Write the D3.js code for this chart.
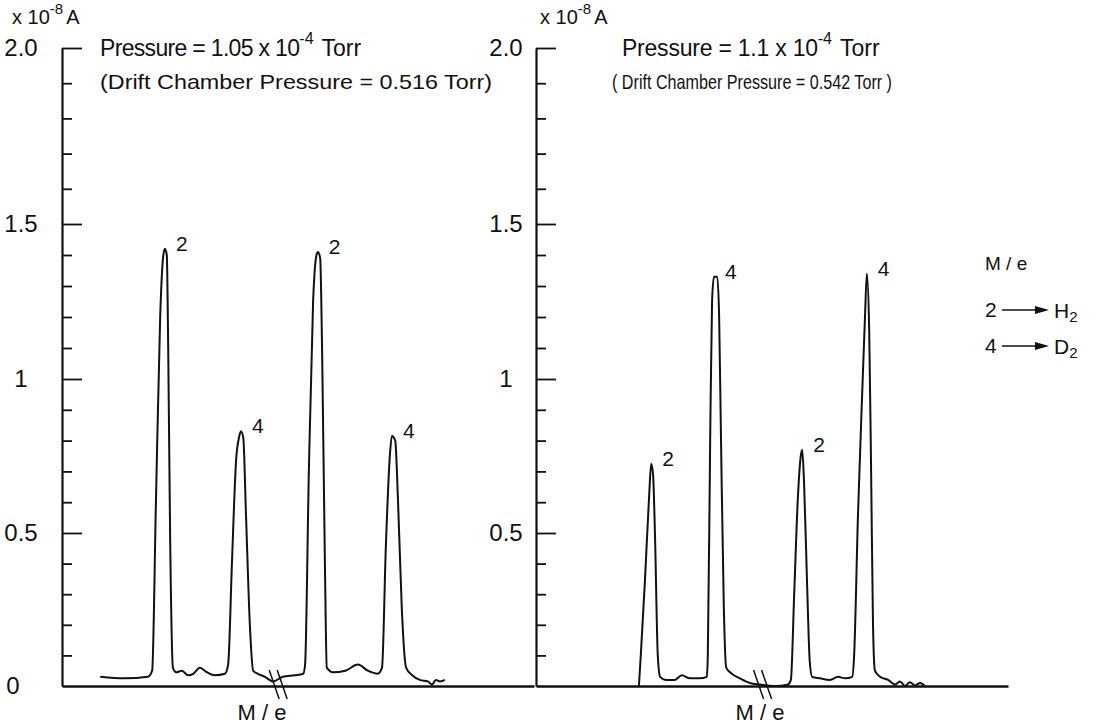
<!DOCTYPE html>
<html>
<head>
<title>Drift chamber mass scans</title>
<script src="https://d3js.org/d3.v7.min.js"></script>
<style>
  body { margin: 0; background: #fff; }
  text { font-family: "Liberation Sans", Arial, sans-serif; fill: #111; }
</style>
</head>
<body>
<div id="my_dataviz"></div>
<script>

// y axis (x 10^-8 A)
var yTickValues = [0, 0.5, 1, 1.5, 2.0];
var yTickLabels = ["0", "0.5", "1", "1.5", "2.0"];
var yMinorTicks = [0.1, 0.2, 0.3, 0.4, 0.6, 0.7, 0.8, 0.9, 1.1, 1.2, 1.3, 1.4, 1.6, 1.7, 1.8, 1.9];

// scan position (arbitrary units, 0..10 per panel) and current
var leftScanX = [0.81, 1.33, 1.82, 1.91, 1.99, 2.08, 2.14, 2.18, 2.22, 2.25, 2.29, 2.35, 2.42, 2.54, 2.67, 2.78, 2.92, 3.07, 3.24, 3.45,
  3.52, 3.6, 3.69, 3.75, 3.79, 3.84, 3.9, 3.98, 4.05, 4.15, 4.3, 4.47, 4.68, 4.93, 5.11,
  5.15, 5.23, 5.32, 5.38, 5.42, 5.47, 5.51, 5.57, 5.61, 5.74, 6.0, 6.27, 6.48, 6.69,
  6.78, 6.86, 6.95, 6.99, 7.06, 7.12, 7.2, 7.29, 7.42, 7.58, 7.75, 7.84, 7.92, 8.01, 8.11];
var leftScanV = [0.03, 0.025, 0.03, 0.05, 0.6, 1.2, 1.39, 1.42, 1.40, 1.1, 0.5, 0.06, 0.045, 0.05, 0.035, 0.04, 0.06, 0.045, 0.035, 0.04,
  0.07, 0.4, 0.74, 0.81, 0.83, 0.81, 0.55, 0.2, 0.05, 0.04, 0.03, 0.015, 0.03, 0.035, 0.04,
  0.07, 0.7, 1.25, 1.39, 1.41, 1.39, 1.1, 0.4, 0.06, 0.045, 0.05, 0.07, 0.05, 0.04,
  0.06, 0.45, 0.76, 0.815, 0.80, 0.6, 0.25, 0.06, 0.035, 0.02, 0.015, 0.005, 0.02, 0.015, 0.02];

var rightScanX = [2.18, 2.22, 2.31, 2.4, 2.44, 2.48, 2.52, 2.58, 2.63, 2.75, 2.94, 3.09, 3.26, 3.47, 3.62,
  3.64, 3.69, 3.73, 3.77, 3.84, 3.88, 3.92, 3.98, 4.03, 4.15, 4.32, 4.53, 4.75, 5.06, 5.34,
  5.4, 5.47, 5.55, 5.61, 5.64, 5.68, 5.74, 5.8, 5.85, 6.02, 6.23, 6.4, 6.55, 6.7,
  6.74, 6.82, 6.91, 6.97, 7.01, 7.06, 7.1, 7.14, 7.18, 7.29, 7.46, 7.61, 7.71, 7.82, 7.92, 8.03, 8.14, 8.24];
var rightScanV = [0.0, 0.1, 0.35, 0.63, 0.725, 0.69, 0.5, 0.1, 0.03, 0.02, 0.02, 0.035, 0.025, 0.025, 0.03,
  0.1, 0.8, 1.25, 1.33, 1.33, 1.2, 0.8, 0.25, 0.06, 0.04, 0.025, 0.01, 0.005, 0.0, 0.005,
  0.02, 0.3, 0.62, 0.75, 0.77, 0.66, 0.35, 0.08, 0.03, 0.025, 0.02, 0.03, 0.025, 0.03,
  0.1, 0.55, 0.95, 1.2, 1.34, 1.15, 0.7, 0.2, 0.05, 0.03, 0.02, 0.005, 0.015, 0.0, 0.012, 0.002, 0.01, 0.0];

// peak labels (M/e) placed at peak tops
var leftPeakX = [2.18, 3.79, 5.42, 6.99];
var leftPeakV = [1.42, 0.83, 1.41, 0.815];
var leftPeakLabel = ["2", "4", "2", "4"];
var rightPeakX = [2.44, 3.77, 5.64, 7.01];
var rightPeakV = [0.725, 1.33, 0.77, 1.34];
var rightPeakLabel = ["2", "4", "2", "4"];

// axis break position on each scan
var leftBreakX = 4.58;
var rightBreakX = 4.8;

var legendMass = ["2", "4"];
var legendGas = ["H", "D"];

var width = 1096, height = 726;

var svg = d3.select("#my_dataviz")
  .append("svg")
    .attr("width", width)
    .attr("height", height);

// hand-ruled axis: the top half-unit is drawn a little taller
var y = d3.scaleLinear().domain(yTickValues).range([686, 533, 379, 224, 48]);

var panels = [
  { x0: 62, x1: 534, labelX: 21, unitX: 12, labels: yTickValues,
    scanX: leftScanX, scanV: leftScanV,
    peakX: leftPeakX, peakV: leftPeakV, peakLabel: leftPeakLabel, breakX: leftBreakX,
    title: "Pressure = 1.05 x 10", titleX: 100, titleLen: 200,
    drift: "(Drift Chamber Pressure = 0.516 Torr)", driftX: 100, driftLen: 392, meX: 262 },
  { x0: 536, x1: 1008, labelX: 506, unitX: 540, labels: yTickValues.slice(1),
    scanX: rightScanX, scanV: rightScanV,
    peakX: rightPeakX, peakV: rightPeakV, peakLabel: rightPeakLabel, breakX: rightBreakX,
    title: "Pressure = 1.1 x 10", titleX: 622, titleLen: 196,
    drift: "( Drift Chamber Pressure = 0.542 Torr )", driftX: 612, driftLen: 280, meX: 760 }
];

panels.forEach(function(p) {
  var x = d3.scaleLinear().domain([0, 10]).range([p.x0, p.x1]);
  var g = svg.append("g");

  // minor ticks
  g.append("g")
    .attr("transform", "translate(" + p.x0 + ",0)")
    .call(d3.axisRight(y).tickValues(yMinorTicks).tickSize(10).tickFormat("").tickSizeOuter(0))
    .call(function(a) { a.select(".domain").remove(); })
    .selectAll("line").attr("stroke", "#111").attr("stroke-width", 1.8);

  // major ticks + axis line
  g.append("g")
    .attr("transform", "translate(" + p.x0 + ",0)")
    .call(d3.axisRight(y).tickValues(yTickValues.slice(1)).tickSize(20).tickFormat("").tickSizeOuter(0))
    .call(function(a) {
      a.select(".domain").attr("stroke", "#111").attr("stroke-width", 2.2);
      a.selectAll("line").attr("stroke", "#111").attr("stroke-width", 1.8);
    });

  // tick labels
  g.selectAll(".ylab")
    .data(p.labels)
    .enter()
    .append("text")
      .attr("x", function(d) { return d === 0 ? p.labelX - 8 : p.labelX; })
      .attr("y", function(d) { return y(d); })
      .attr("dy", "0.35em")
      .attr("text-anchor", "middle")
      .attr("font-size", 24)
      .text(function(d) { return yTickLabels[yTickValues.indexOf(d)]; });

  // baseline (M/e axis)
  g.append("g")
    .attr("transform", "translate(0," + y(0) + ")")
    .call(d3.axisBottom(x).tickValues([]).tickSizeOuter(0))
    .select(".domain").attr("stroke", "#111").attr("stroke-width", 2.4);

  // units label
  var u = g.append("text").attr("x", p.unitX).attr("y", 24).attr("font-size", 20);
  u.append("tspan").text("x 10");
  u.append("tspan").attr("dy", -10).attr("font-size", 15).text("-8");
  u.append("tspan").attr("dy", 10).attr("dx", 3).text("A");

  // titles
  var t = g.append("text").attr("x", p.titleX).attr("y", 56).attr("font-size", 23);
  t.append("tspan").attr("textLength", p.titleLen).text(p.title);
  t.append("tspan").attr("dy", -12).attr("font-size", 16).text("-4");
  t.append("tspan").attr("dy", 12).attr("dx", 8).text("Torr");

  g.append("text")
    .attr("x", p.driftX).attr("y", 89)
    .attr("font-size", 21)
    .attr("textLength", p.driftLen)
    .attr("lengthAdjust", "spacingAndGlyphs")
    .text(p.drift);

  // scan trace
  var data = p.scanX.map(function(d, i) { return { x: d, v: p.scanV[i] }; });
  g.append("path")
    .datum(data)
    .attr("fill", "none")
    .attr("stroke", "#111")
    .attr("stroke-width", 2)
    .attr("stroke-linejoin", "round")
    .attr("d", d3.line()
      .x(function(d) { return x(d.x); })
      .y(function(d) { return y(d.v); })
      .curve(d3.curveMonotoneX));

  // peak labels
  g.selectAll(".plab")
    .data(p.peakX)
    .enter()
    .append("text")
      .attr("x", function(d) { return x(d) + 11; })
      .attr("y", function(d, i) { return y(p.peakV[i]) + 2; })
      .attr("font-size", 21)
      .text(function(d, i) { return p.peakLabel[i]; });

  // axis break marks
  [-4, 4].forEach(function(off) {
    g.append("line")
      .attr("x1", x(p.breakX) + off - 5).attr("y1", y(0) - 16)
      .attr("x2", x(p.breakX) + off + 5).attr("y2", y(0) + 13)
      .attr("stroke", "#111").attr("stroke-width", 1.5);
  });

  // axis title
  g.append("text")
    .attr("x", p.meX).attr("y", 720)
    .attr("text-anchor", "middle")
    .attr("font-size", 22)
    .text("M / e");
});

// legend
svg.append("text").attr("x", 985).attr("y", 270).attr("font-size", 19).text("M / e");
var leg = svg.selectAll(".leg")
  .data(legendMass)
  .enter()
  .append("g")
    .attr("transform", function(d, i) { return "translate(985," + (310 + i * 36) + ")"; });
leg.append("text").attr("y", 7).attr("font-size", 21).text(function(d) { return d; });
leg.append("line").attr("x1", 17).attr("x2", 58).attr("y1", 0).attr("y2", 0)
  .attr("stroke", "#111").attr("stroke-width", 1.5);
leg.append("path").attr("d", "M50,-4 L64,0 L50,4 Z").attr("fill", "#111");
var gas = leg.append("text").attr("x", 69).attr("y", 8).attr("font-size", 21);
gas.append("tspan").text(function(d, i) { return legendGas[i]; });
gas.append("tspan").attr("dy", 4).attr("font-size", 15).text("2");

</script>
</body>
</html>
